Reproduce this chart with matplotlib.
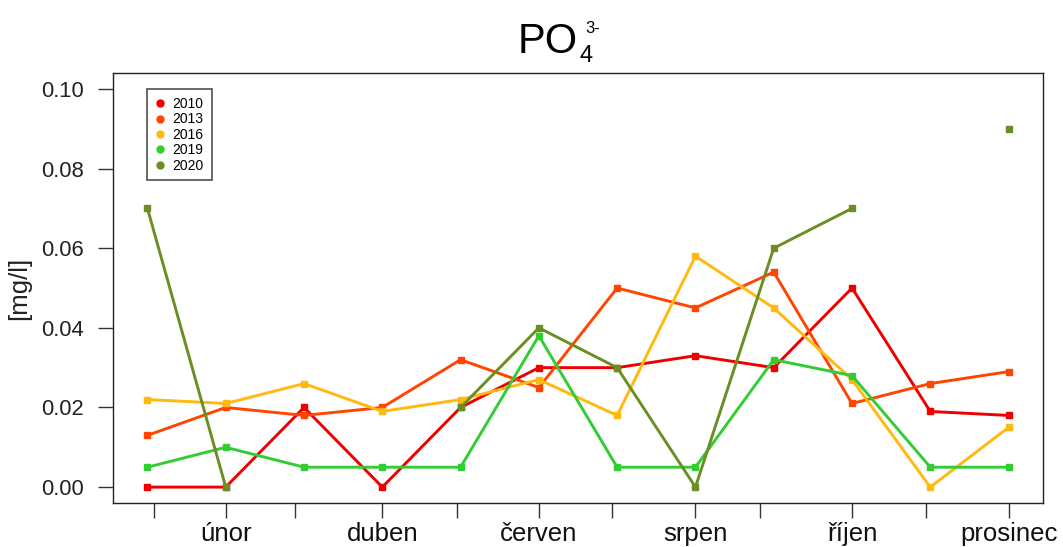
import numpy as np
import matplotlib
matplotlib.use("Agg")
import matplotlib.pyplot as plt

plt.rcParams['font.family'] = ['Liberation Sans', 'DejaVu Sans']

months = list(range(1, 13))
month_labels = ["únor", "duben", "červen", "srpen", "říjen", "prosinec"]
label_months = [2, 4, 6, 8, 10, 12]
extra_ticks = [1.08, 2.89, 4.95, 6.93, 8.83, 10.95]

years = ["2010", "2013", "2016", "2019", "2020"]
nan = np.nan
v2010 = [0.000, 0.000, 0.020, 0.000, 0.020, 0.030, 0.030, 0.033, 0.030, 0.050, 0.019, 0.018]
v2013 = [0.013, 0.020, 0.018, 0.020, 0.032, 0.025, 0.050, 0.045, 0.054, 0.021, 0.026, 0.029]
v2016 = [0.022, 0.021, 0.026, 0.019, 0.022, 0.027, 0.018, 0.058, 0.045, 0.027, 0.000, 0.015]
v2019 = [0.005, 0.010, 0.005, 0.005, 0.005, 0.038, 0.005, 0.005, 0.032, 0.028, 0.005, 0.005]
v2020 = [0.070, 0.000, nan, nan, 0.020, 0.040, 0.030, 0.000, 0.060, 0.070, nan, 0.090]
series = [v2010, v2013, v2016, v2019, v2020]
colors = ["#EE0000", "#FF4500", "#FFB90F", "#32CD32", "#6B8E23"]

W, H = 1063, 547
fig = plt.figure(figsize=(W / 100, H / 100), dpi=100)
ax = fig.add_axes([0.1063, 0.0804, 0.8749, 0.7861])

for vals, c, y in zip(series, colors, years):
    ax.plot(months, vals, color=c, lw=2.1, marker='s', ms=3.8, mec=c, mfc=c)

ax.set_xlim(0.56, 12.44)
ax.set_ylim(-0.004, 0.104)

ax.set_yticks([0.0, 0.02, 0.04, 0.06, 0.08, 0.10])
ax.set_yticklabels(["0.00", "0.02", "0.04", "0.06", "0.08", "0.10"], fontsize=15.8, color='#222222')
ax.set_xticks(label_months)
ax.set_xticklabels(month_labels, fontsize=18.5, color='#111111')
ax.set_xticks(extra_ticks, minor=True)
ax.tick_params(axis='both', which='both', direction='out', length=11, width=1, color='#333333')
ax.tick_params(axis='x', which='major', pad=3)
ax.tick_params(axis='y', pad=10)

for s in ax.spines.values():
    s.set_linewidth(1)
    s.set_color('#222222')

ax.set_ylabel("[mg/l]", fontsize=18.5, labelpad=7, color='#222222')

# title PO4 3-
fig.text(518 / W, 1 - 53 / H, "PO", ha='left', va='baseline', fontsize=30)
fig.text(579 / W, 1 - 62 / H, "4", ha='left', va='baseline', fontsize=17)
fig.text(585 / W, 1 - 33 / H, "3-", ha='left', va='baseline', fontsize=12)

handles = [plt.Line2D([], [], ls='none', marker='o', ms=5, color=c) for c in colors]
leg = ax.legend(handles, years, loc='upper left', bbox_to_anchor=(0.0366, 0.962),
                fontsize=10, frameon=True, fancybox=False, handlelength=0.8,
                handletextpad=0.5, labelspacing=0.1, borderpad=0.55, borderaxespad=0)
leg.get_frame().set_edgecolor('#222222')
leg.get_frame().set_linewidth(1.2)

fig.savefig("out.png", dpi=100)
